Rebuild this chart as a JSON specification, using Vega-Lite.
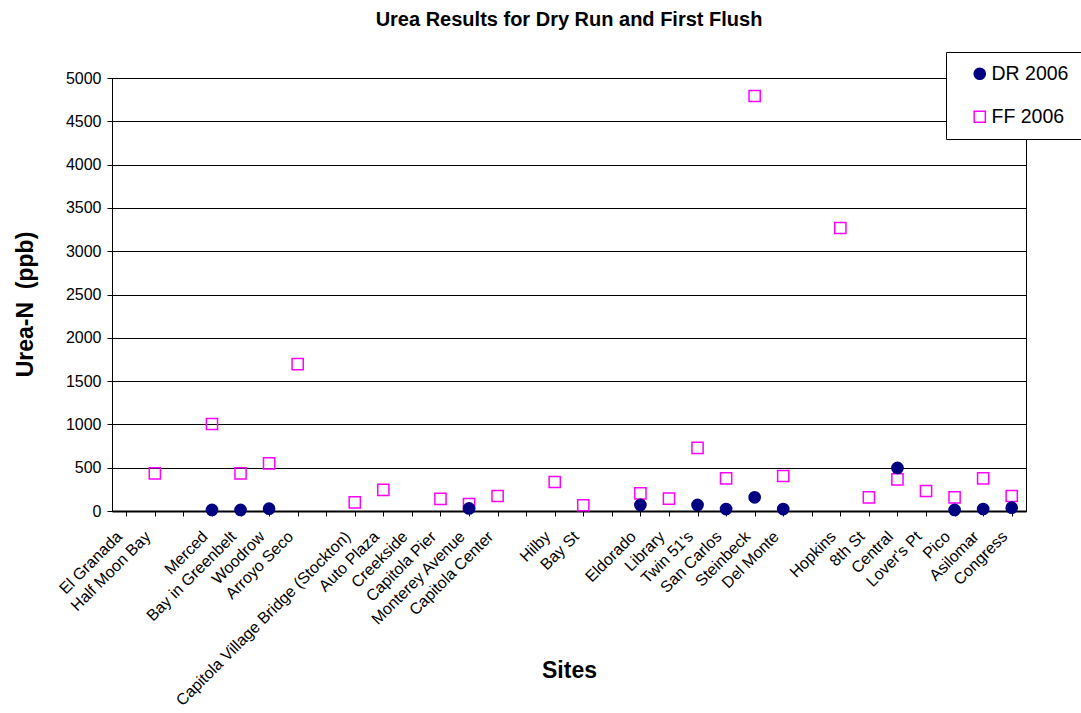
{
  "$schema": "https://vega.github.io/schema/vega-lite/v6.json",
  "autosize": "none",
  "width": 914,
  "height": 433,
  "padding": {"left": 112, "top": 78, "right": 55, "bottom": 202},
  "background": "white",
  "config": {
    "font": "Liberation Sans",
    "view": {"stroke": "black", "strokeWidth": 1}
  },
  "title": {
    "text": "Urea Results for Dry Run and First Flush",
    "fontSize": 20,
    "fontWeight": "bold",
    "color": "black",
    "anchor": "middle",
    "offset": 22
  },
  "data": {
    "values": [
      {"site": "Half Moon Bay", "series": "FF 2006", "value": 435},
      {"site": "Merced", "series": "FF 2006", "value": 1005},
      {"site": "Bay in Greenbelt", "series": "FF 2006", "value": 435},
      {"site": "Woodrow", "series": "FF 2006", "value": 550},
      {"site": "Arroyo Seco", "series": "FF 2006", "value": 1695},
      {"site": "Capitola Village Bridge (Stockton)", "series": "FF 2006", "value": 100},
      {"site": "Auto Plaza", "series": "FF 2006", "value": 243},
      {"site": "Capitola Pier", "series": "FF 2006", "value": 140},
      {"site": "Monterey Avenue", "series": "FF 2006", "value": 80},
      {"site": "Capitola Center", "series": "FF 2006", "value": 173},
      {"site": "Hilby", "series": "FF 2006", "value": 335},
      {"site": "Bay St", "series": "FF 2006", "value": 66},
      {"site": "Eldorado", "series": "FF 2006", "value": 204},
      {"site": "Library", "series": "FF 2006", "value": 142},
      {"site": "Twin 51's", "series": "FF 2006", "value": 728},
      {"site": "San Carlos", "series": "FF 2006", "value": 377},
      {"site": "Steinbeck", "series": "FF 2006", "value": 4792},
      {"site": "Del Monte", "series": "FF 2006", "value": 404},
      {"site": "Hopkins", "series": "FF 2006", "value": 3268},
      {"site": "8th St", "series": "FF 2006", "value": 158},
      {"site": "Central", "series": "FF 2006", "value": 366},
      {"site": "Lover's Pt", "series": "FF 2006", "value": 231},
      {"site": "Pico", "series": "FF 2006", "value": 158},
      {"site": "Asilomar", "series": "FF 2006", "value": 377},
      {"site": "Congress", "series": "FF 2006", "value": 173},
      {"site": "Merced", "series": "DR 2006", "value": 12},
      {"site": "Bay in Greenbelt", "series": "DR 2006", "value": 12},
      {"site": "Woodrow", "series": "DR 2006", "value": 27},
      {"site": "Monterey Avenue", "series": "DR 2006", "value": 30},
      {"site": "Eldorado", "series": "DR 2006", "value": 70},
      {"site": "Twin 51's", "series": "DR 2006", "value": 70},
      {"site": "San Carlos", "series": "DR 2006", "value": 22},
      {"site": "Steinbeck", "series": "DR 2006", "value": 158},
      {"site": "Del Monte", "series": "DR 2006", "value": 22},
      {"site": "Central", "series": "DR 2006", "value": 497},
      {"site": "Pico", "series": "DR 2006", "value": 12},
      {"site": "Asilomar", "series": "DR 2006", "value": 23},
      {"site": "Congress", "series": "DR 2006", "value": 38}
    ]
  },
  "mark": {"type": "point", "size": 125, "strokeWidth": 1.5, "opacity": 1},
  "encoding": {
    "x": {
      "field": "site",
      "type": "nominal",
      "sort": null,
      "scale": {
        "domain": ["El Granada", "Half Moon Bay", "gap1", "Merced", "Bay in Greenbelt", "Woodrow", "Arroyo Seco", "gap2", "Capitola Village Bridge (Stockton)", "Auto Plaza", "Creekside", "Capitola Pier", "Monterey Avenue", "Capitola Center", "gap3", "Hilby", "Bay St", "gap4", "Eldorado", "Library", "Twin 51's", "San Carlos", "Steinbeck", "Del Monte", "gap5", "Hopkins", "8th St", "Central", "Lover's Pt", "Pico", "Asilomar", "Congress"],
        "paddingInner": 0,
        "paddingOuter": 0
      },
      "axis": {
        "title": "Sites",
        "titleFontSize": 23,
        "titleFontWeight": "bold",
        "titleColor": "black",
        "titleX": 457,
        "titleY": 159,
        "titleBaseline": "middle",
        "titleAlign": "center",
        "labelExpr": "slice(datum.value,0,3)=='gap' ? '' : datum.value",
        "labelAngle": -45,
        "labelAlign": "right",
        "labelBaseline": "top",
        "labelFontSize": 16,
        "labelColor": "black",
        "labelPadding": 12,
        "bandPosition": 0,
        "labelOffset": -13,
        "labelOverlap": false,
        "labelLimit": 400,
        "tickSize": 5,
        "tickColor": "black",
        "domainColor": "black",
        "domainWidth": 2,
        "grid": false
      }
    },
    "y": {
      "field": "value",
      "type": "quantitative",
      "scale": {"domain": [0, 5000], "nice": false, "zero": true},
      "axis": {
        "title": "Urea-N\u00a0 (ppb)",
        "titleFontSize": 23,
        "titleFontWeight": "bold",
        "titleColor": "black",
        "titleAngle": 270,
        "titleX": -87,
        "titleY": 226,
        "titleAlign": "center",
        "titleBaseline": "middle",
        "values": [0, 500, 1000, 1500, 2000, 2500, 3000, 3500, 4000, 4500, 5000],
        "format": "d",
        "labelFontSize": 16,
        "labelColor": "black",
        "labelPadding": 6,
        "tickSize": 5,
        "tickColor": "black",
        "domainColor": "black",
        "grid": true,
        "gridColor": "black",
        "gridWidth": 1
      }
    },
    "fill": {
      "field": "series",
      "type": "nominal",
      "scale": {"domain": ["DR 2006", "FF 2006"], "range": ["#000080", "transparent"]},
      "legend": {
        "title": "\u00a0",
        "titleOrient": "left",
        "titleFontSize": 1,
        "titlePadding": 12,
        "orient": "none",
        "legendX": 834,
        "legendY": -26,
        "padding": 12,
        "fillColor": "white",
        "strokeColor": "black",
        "labelFontSize": 19.5,
        "labelColor": "black",
        "labelOffset": 2,
        "symbolSize": 125,
        "symbolStrokeWidth": 1.5,
        "rowPadding": 22,
        "labelLimit": 200
      }
    },
    "stroke": {
      "field": "series",
      "type": "nominal",
      "scale": {"domain": ["DR 2006", "FF 2006"], "range": ["#000080", "#FF00FF"]}
    },
    "shape": {
      "field": "series",
      "type": "nominal",
      "scale": {"domain": ["DR 2006", "FF 2006"], "range": ["circle", "square"]}
    }
  }
}
